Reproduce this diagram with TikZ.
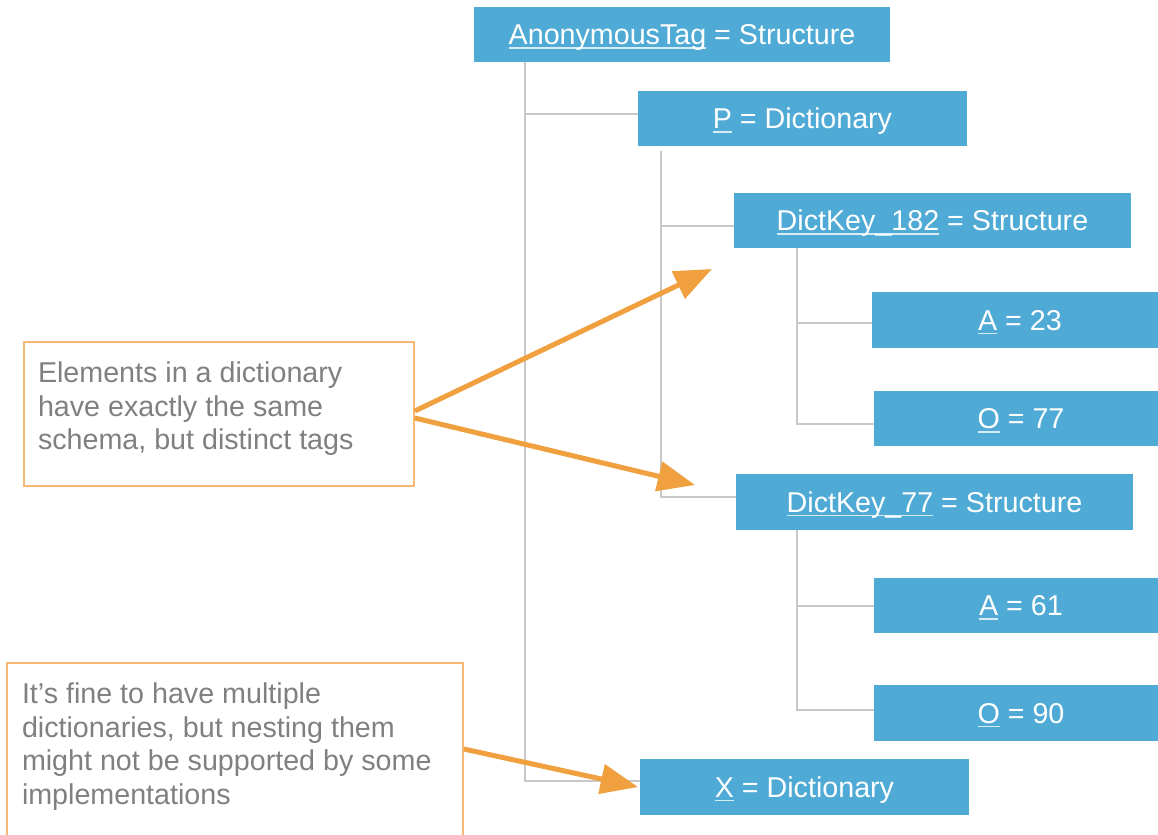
\documentclass[tikz,border=0pt]{standalone}
\usepackage{fontspec}
\setmainfont{Liberation Sans}
\usetikzlibrary{arrows.meta}
\definecolor{boxblue}{RGB}{79,170,213}
\definecolor{arrorange}{RGB}{240,160,63}
\definecolor{callborder}{RGB}{246,184,116}
\definecolor{calltext}{RGB}{128,128,128}
\definecolor{treegray}{RGB}{200,200,200}
\newcommand\myul[1]{\setbox0\hbox{#1}\rlap{\color{white!78!boxblue}\rule[-3pt]{\wd0}{1pt}}\box0\relax}
\begin{document}
\begin{tikzpicture}[x=0.75pt,y=-0.75pt,
  bluebox/.style={fill=boxblue, draw=none, text=white, font=\fontsize{21.5}{25}\selectfont,
    inner sep=0pt, minimum height=41.5pt, text height=15.4pt, text depth=0pt},
  tree/.style={draw=treegray, line width=1.5pt},
  callout/.style={draw=callborder, line width=1.2pt, text=calltext, inner sep=0pt,
    font=\fontsize{21.5}{25.1}\selectfont},
  callarrow/.style={draw=arrorange, line width=3.75pt, -{Triangle[length=28pt,width=22pt]}}]

\useasboundingbox (0,0) rectangle (1158,835);
\fill[white] (0,0) rectangle (1158,835);

% boxes
\node[bluebox, minimum width=312pt]    (top)   at (682,34.5)   {\myul{AnonymousTag} = Structure};
\node[bluebox, minimum width=246.75pt] (P)     at (802.5,118.5) {\myul{P} = Dictionary};
\node[bluebox, minimum width=297.75pt] (dk182) at (932.5,220.5) {\myul{DictKey\_182} = Structure};
\node[bluebox, minimum width=222pt]    (a23)   at (1020,320)   {\myul{A} = 23};
\node[bluebox, minimum width=220.5pt]  (o77)   at (1021,418.5) {\myul{O} = 77};
\node[bluebox, minimum width=297.75pt] (dk77)  at (934.5,502)  {\myul{DictKey\_77} = Structure};
\node[bluebox, minimum width=220.5pt]  (a61)   at (1021,605.5) {\myul{A} = 61};
\node[bluebox, minimum width=220.5pt]  (o90)   at (1021,713)   {\myul{O} = 90};
\node[bluebox, minimum width=246.75pt] (X)     at (804.5,787)  {\myul{X} = Dictionary};

% tree connectors
\coordinate (t1) at (525,0);
\coordinate (t2) at (661,151);
\coordinate (t3) at (797,0);
\coordinate (pb)  at ([yshift=3.75pt]P.west);
\coordinate (xb)  at ([yshift=4.5pt]X.west);
\coordinate (k1b) at ([yshift=-4.1pt]dk182.west);
\coordinate (k2b) at ([yshift=3.75pt]dk77.west);
\coordinate (a1b) at ([yshift=-2.25pt]a23.west);
\coordinate (o1b) at ([yshift=-3.75pt]o77.west);
\coordinate (a2b) at (a61.west);
\coordinate (o2b) at ([yshift=2.25pt]o90.west);

\draw[tree] (top.south -| t1) |- (xb);
\draw[tree] (t1 |- pb) -- (pb);
\draw[tree] (t2) |- (k2b);
\draw[tree] (t2 |- k1b) -- (k1b);
\draw[tree] (dk182.south -| t3) |- (o1b);
\draw[tree] (t3 |- a1b) -- (a1b);
\draw[tree] (dk77.south -| t3) |- (o2b);
\draw[tree] (t3 |- a2b) -- (a2b);

% callouts
\node[callout, minimum width=292.5pt, minimum height=108pt] (c1) at (219,414)
  {\parbox[c][108pt][t]{271.5pt}{\raggedright\vspace*{15pt}Elements in a dictionary\\have exactly the same\\schema, but distinct tags}};
\node[callout, minimum width=342pt, minimum height=136.5pt] (c2) at (235,754)
  {\parbox[c][136.5pt][t]{319.5pt}{\raggedright\vspace*{15pt}It’s fine to have multiple\\dictionaries, but nesting them\\might not be supported by some\\implementations}};

% arrows
\coordinate (tip1) at (712,269);
\coordinate (tip2) at (695,485);
\coordinate (tip3) at (638,787);
\draw[callarrow] ([yshift=2.25pt]c1.east) -- (tip1);
\draw[callarrow] ([yshift=-3pt]c1.east) -- (tip2);
\draw[callarrow] ([yshift=3.75pt]c2.east) -- (tip3);
\end{tikzpicture}
\end{document}
